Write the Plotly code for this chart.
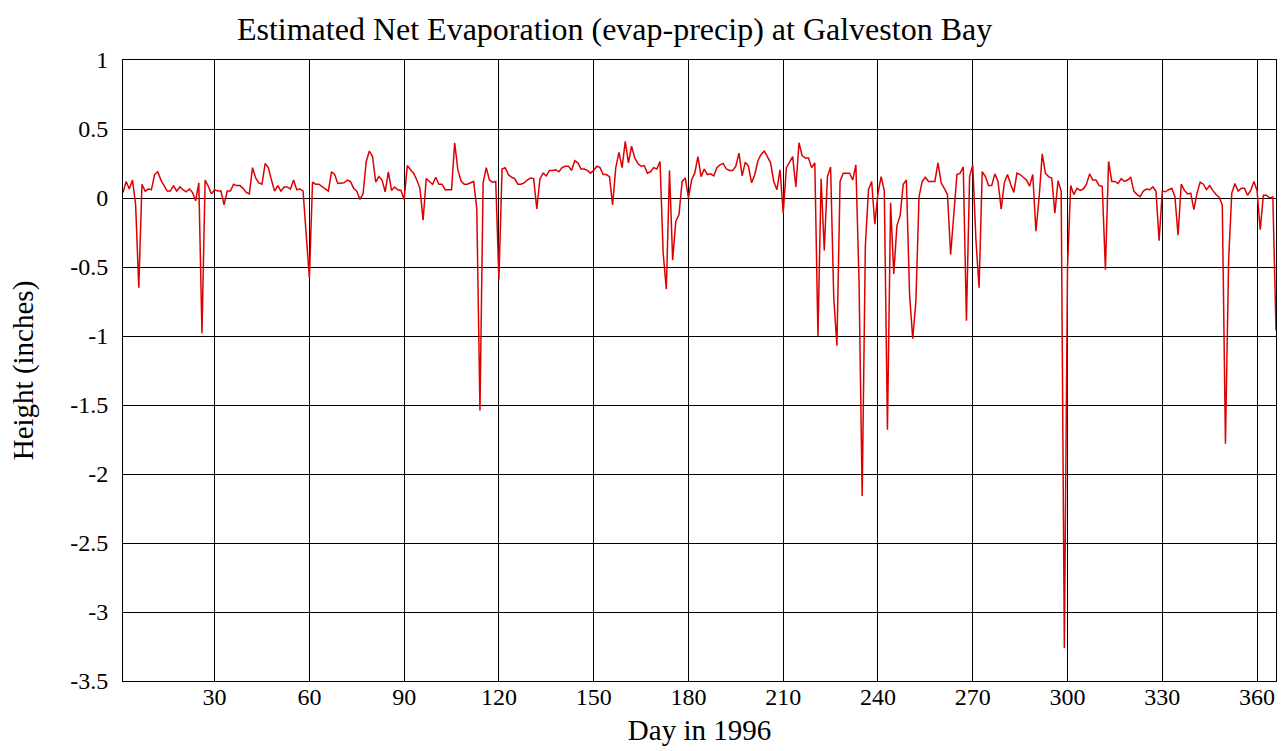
import plotly.graph_objects as go

# Net evaporation (inches) per day of 1996
q1 = [0.04, 0.12, 0.065, 0.13, -0.05, -0.65, 0.1, 0.05, 0.065, 0.06,
      0.17, 0.19, 0.13, 0.085, 0.05, 0.05, 0.09, 0.05, 0.08, 0.06,
      0.045, 0.065, 0.04, -0.02, 0.11, -0.98, 0.13, 0.085, 0.03, 0.06,
      0.05, 0.05, -0.05, 0.05, 0.05, 0.1, 0.09, 0.09, 0.07, 0.04,
      0.03, 0.22, 0.145, 0.11, 0.1, 0.25, 0.22, 0.13, 0.05, 0.09,
      0.05, 0.08, 0.08, 0.065, 0.13, 0.06, 0.065, 0.05, -0.25, -0.58,
      0.115, 0.1, 0.1, 0.085, 0.065, 0.05, 0.19, 0.17, 0.105, 0.11,
      0.11, 0.13, 0.12, 0.07, 0.05, -0.01, 0.03, 0.265, 0.34, 0.30,
      0.115, 0.155, 0.13, 0.045, 0.19, 0.055, 0.08, 0.06, 0.055, -0.01,
      0.235]
q2 = [0.205, 0.18, 0.13, 0.07, -0.16, 0.14, 0.12, 0.1, 0.15,
      0.1, 0.1, 0.06, 0.06, 0.06, 0.4, 0.205, 0.125, 0.1, 0.1,
      0.11, 0.12, -0.08, -1.54, 0.11, 0.22, 0.13, 0.115, 0.12, -0.59,
      0.21, 0.22, 0.17, 0.15, 0.14, 0.1, 0.1, 0.11, 0.13, 0.145,
      0.14, -0.08, 0.14, 0.18, 0.16, 0.2, 0.2, 0.205, 0.19, 0.22,
      0.23, 0.23, 0.2, 0.27, 0.255, 0.21, 0.21, 0.2, 0.18, 0.2,
      0.23, 0.22, 0.17, 0.17, 0.155, -0.05, 0.22, 0.33, 0.22, 0.41,
      0.255, 0.375, 0.29, 0.25, 0.23, 0.235, 0.18, 0.19, 0.22, 0.21,
      0.265, -0.4, -0.66, 0.2, -0.45, -0.17, -0.12, 0.12, 0.145, 0.0,
      0.13]
q3 = [0.18, 0.3, 0.155, 0.21, 0.17, 0.175, 0.16, 0.22, 0.24,
      0.25, 0.21, 0.2, 0.2, 0.23, 0.325, 0.16, 0.26, 0.23, 0.11,
      0.17, 0.27, 0.315, 0.34, 0.3, 0.255, 0.12, 0.06, 0.205, -0.11,
      0.22, 0.265, 0.3, 0.08, 0.4, 0.305, 0.29, 0.29, 0.22, 0.255,
      -1.0, 0.14, -0.38, 0.155, 0.225, -0.72, -1.07, 0.12, 0.18, 0.18,
      0.18, 0.13, 0.24, -0.6, -2.16, -0.35, 0.06, 0.12, -0.19, 0.035,
      0.155, 0.05, -1.68, -0.035, -0.55, -0.2, -0.13, 0.1, 0.13, -0.7,
      -1.02, -0.75, 0.01, 0.12, 0.15, 0.12, 0.12, 0.12, 0.255, 0.11,
      0.07, 0.025, -0.41, -0.12, 0.17, 0.18, 0.225, -0.89, 0.155, 0.24,
      -0.3, -0.65]
q4 = [0.19, 0.155, 0.09, 0.09, 0.175, 0.12, -0.08, 0.11,
      0.17, 0.1, 0.04, 0.18, 0.17, 0.15, 0.13, 0.085, 0.17, -0.24,
      0.0, 0.32, 0.18, 0.155, 0.145, -0.11, 0.125, 0.05, -3.26, -0.5,
      0.09, 0.025, 0.07, 0.055, 0.065, 0.1, 0.175, 0.13, 0.13, 0.09,
      0.085, -0.52, 0.265, 0.12, 0.12, 0.105, 0.14, 0.12, 0.13, 0.15,
      0.05, 0.025, 0.01, 0.05, 0.065, 0.06, 0.08, 0.05, -0.31, 0.05,
      0.045, 0.06, 0.07, 0.01, -0.27, 0.1, 0.055, 0.03, 0.035, -0.085,
      0.035, 0.115, 0.1, 0.06, 0.09, 0.055, 0.025, 0.005, -0.05, -1.78,
      -0.45, 0.035, 0.105, 0.05, 0.07, 0.07, 0.02, 0.055, 0.12, 0.055,
      -0.23, 0.02, 0.02, 0.0, 0.007, -0.96]

values = q1 + q2 + q3 + q4
days = list(range(1, len(values) + 1))

x_ticks = [30, 60, 90, 120, 150, 180, 210, 240, 270, 300, 330, 360]
y_ticks = [1, 0.5, 0, -0.5, -1, -1.5, -2, -2.5, -3, -3.5]
y_labels = ["1", "0.5", "0", "-0.5", "-1", "-1.5", "-2", "-2.5", "-3", "-3.5"]

FONT = "Liberation Serif"

fig = go.Figure()
fig.add_trace(go.Scatter(
    x=days, y=values, mode="lines",
    line=dict(color="#dd0000", width=1.5),
    showlegend=False,
))

fig.update_layout(
    width=1283, height=751,
    margin=dict(l=123, r=7, t=60, b=70),
    paper_bgcolor="white", plot_bgcolor="white",
    font=dict(family=FONT, size=24, color="black"),
    title=dict(
        text="Estimated Net Evaporation (evap-precip) at Galveston Bay",
        font=dict(family=FONT, size=32, color="black"),
        xref="container", x=0.479, xanchor="center",
        yref="container", y=0.961, yanchor="middle",
    ),
)
fig.update_xaxes(
    range=[1, 366], tickvals=x_ticks, ticks="",
    showgrid=True, gridcolor="black", gridwidth=1,
    showline=True, linecolor="black", linewidth=1, mirror=True,
    zeroline=False,
    title=dict(text="Day in 1996", font=dict(family=FONT, size=29), standoff=10),
    tickfont=dict(family=FONT, size=24),
    ticklabelstandoff=-6,
)
fig.update_yaxes(
    range=[-3.5, 1], tickvals=y_ticks, ticktext=y_labels, ticks="",
    showgrid=True, gridcolor="black", gridwidth=1,
    showline=True, linecolor="black", linewidth=1, mirror=True,
    zeroline=False,
    title=dict(text="Height (inches)", font=dict(family=FONT, size=29), standoff=28),
    tickfont=dict(family=FONT, size=24),
    ticklabelstandoff=9,
)

fig.write_html("out.html")
